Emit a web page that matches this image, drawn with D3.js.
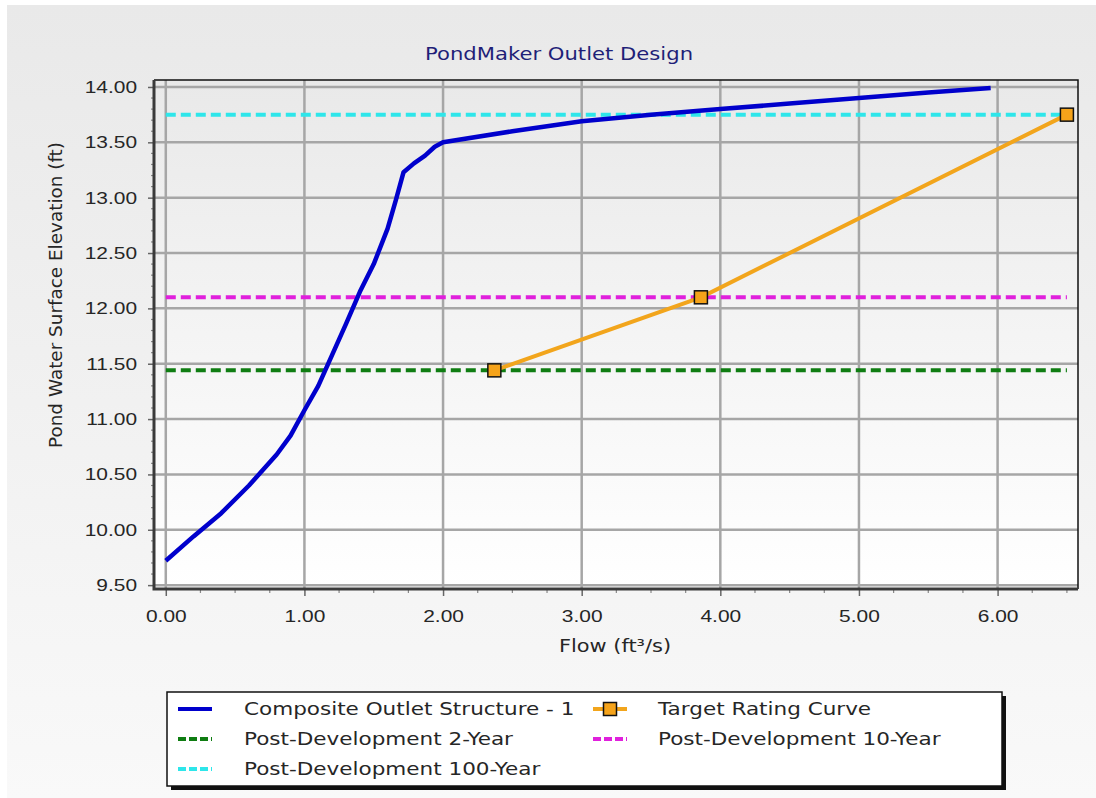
<!DOCTYPE html>
<html>
<head>
<meta charset="utf-8">
<script src="https://cdn.jsdelivr.net/npm/d3@7"></script>
<style>
  html, body { margin: 0; padding: 0; background: #fff; }
  svg { display: block; font-family: 'DejaVu Sans', Verdana, sans-serif; }
</style>
</head>
<body>
<svg id="chart" width="1096" height="798"></svg>
<script>
'use strict';

// composite outlet rating curve (flow ft3/s, elevation ft)
const compositeFlow = [0.00, 0.20, 0.40, 0.60, 0.80, 0.90, 1.00, 1.10, 1.20, 1.30, 1.40, 1.50, 1.60, 1.66, 1.715, 1.79, 1.87, 1.94, 2.00, 2.50, 3.00, 3.50, 4.00, 4.50, 5.00, 5.50, 5.95];
const compositeElev = [9.72, 9.94, 10.15, 10.40, 10.68, 10.85, 11.08, 11.30, 11.58, 11.86, 12.15, 12.40, 12.72, 12.98, 13.23, 13.31, 13.38, 13.46, 13.50, 13.60, 13.69, 13.75, 13.80, 13.85, 13.90, 13.95, 13.99];

// target rating curve
const targetFlow = [2.37, 3.86, 6.50];
const targetElev = [11.44, 12.10, 13.75];

// post-development peak elevations
const stormNames = ['Post-Development 2-Year', 'Post-Development 10-Year', 'Post-Development 100-Year'];
const stormElev = [11.44, 12.10, 13.75];
const stormColors = ['#0f7d12', '#e020dc', '#2ee6ea'];

const xTicks = [0, 1, 2, 3, 4, 5, 6];
const yTicks = [9.5, 10, 10.5, 11, 11.5, 12, 12.5, 13, 13.5, 14];

const SX = 1.23; // screenshot is stretched sideways, so are the glyphs
const ink = '#262626';

const svg = d3.select('#chart');

// BACKGROUND
const defs = svg.append('defs');
const bgGrad = defs.append('linearGradient').attr('id', 'bg').attr('x1', 0).attr('y1', 0).attr('x2', 0).attr('y2', 1);
bgGrad.append('stop').attr('offset', 0).attr('stop-color', '#e9e9e9');
bgGrad.append('stop').attr('offset', 1).attr('stop-color', '#f9f9f9');
const plotGrad = defs.append('linearGradient').attr('id', 'plotbg').attr('x1', 0).attr('y1', 0).attr('x2', 0).attr('y2', 1);
plotGrad.append('stop').attr('offset', 0).attr('stop-color', '#e9e9e9');
plotGrad.append('stop').attr('offset', 1).attr('stop-color', '#ffffff');

svg.append('rect').attr('x', 0).attr('y', 0).attr('width', 1096).attr('height', 798).attr('fill', '#fff');
svg.append('rect').attr('x', 7).attr('y', 5).attr('width', 1089).attr('height', 793).attr('fill', 'url(#bg)');

function label(parent, x, y, str, size, anchor, color, sx) {
  return parent.append('text')
    .attr('transform', `translate(${x},${y}) scale(${sx || SX},1)`)
    .attr('text-anchor', anchor || 'start')
    .attr('font-size', size)
    .attr('fill', color || ink)
    .text(str);
}

// PLOT AREA
const pLeft = 154, pRight = 1078, pTop = 80, pBottom = 589;
const x = d3.scaleLinear().domain([-0.085, 6.58]).range([pLeft, pRight]);
const y = d3.scaleLinear().domain([9.465, 14.063]).range([pBottom, pTop]);

svg.append('rect')
  .attr('x', pLeft).attr('y', pTop)
  .attr('width', pRight - pLeft).attr('height', pBottom - pTop)
  .attr('fill', 'url(#plotbg)');

// grid
const grid = svg.append('g').attr('stroke', '#a6a6a6').attr('stroke-width', 2.5);
grid.selectAll('.gx').data(xTicks).enter().append('line')
  .attr('x1', d => x(d)).attr('x2', d => x(d)).attr('y1', pTop).attr('y2', pBottom);
grid.selectAll('.gy').data(yTicks).enter().append('line')
  .attr('y1', d => y(d)).attr('y2', d => y(d)).attr('x1', pLeft).attr('x2', pRight);

// frame: top and right thin black
svg.append('path')
  .attr('d', `M${pLeft},${pTop} H${pRight} V${pBottom}`)
  .attr('fill', 'none').attr('stroke', '#111').attr('stroke-width', 1.5);

// AXES
const minorX = d3.range(0, 6.51, 0.25).filter(v => Math.abs(v - Math.round(v)) > 1e-6);
const minorY = d3.range(9.5, 14.01, 0.1).filter(v => Math.abs(v * 2 - Math.round(v * 2)) > 1e-6);

const xAxis = svg.append('g').attr('transform', `translate(0,${pBottom})`)
  .call(d3.axisBottom(x).tickValues(xTicks).tickFormat(d3.format('.2f')).tickSize(7).tickSizeOuter(0).tickPadding(13));
xAxis.select('.domain').remove();
xAxis.selectAll('line').attr('stroke', '#666').attr('stroke-width', 1.5);
xAxis.selectAll('text')
  .attr('font-size', 17).attr('fill', ink).attr('font-family', null)
  .attr('transform', `scale(${SX},1)`)
  .attr('y', 21).attr('dy', '0.71em');
xAxis.selectAll('.minor').data(minorX).enter().append('line')
  .attr('x1', d => x(d)).attr('x2', d => x(d)).attr('y1', 0).attr('y2', 4)
  .attr('stroke', '#888').attr('stroke-width', 1.2);

const yAxis = svg.append('g').attr('transform', `translate(${pLeft},0)`)
  .call(d3.axisLeft(y).tickValues(yTicks).tickFormat(d3.format('.2f')).tickSize(6).tickSizeOuter(0).tickPadding(11));
yAxis.select('.domain').remove();
yAxis.selectAll('line').attr('stroke', '#666').attr('stroke-width', 1.5);
yAxis.selectAll('text')
  .attr('font-size', 17).attr('fill', ink).attr('font-family', null)
  .attr('transform', `scale(${SX},1)`)
  .attr('x', -17 / SX);
yAxis.selectAll('.minor').data(minorY).enter().append('line')
  .attr('y1', d => y(d)).attr('y2', d => y(d)).attr('x1', -3).attr('x2', 0)
  .attr('stroke', '#888').attr('stroke-width', 1.2);

// dark left and bottom axis lines
svg.append('path')
  .attr('d', `M${pLeft},${pTop} V${pBottom} H${pRight}`)
  .attr('fill', 'none').attr('stroke', '#3a3a3a').attr('stroke-width', 3);

// LINES
const line = d3.line().x(d => x(d[0])).y(d => y(d[1]));
const lines = svg.append('g');

stormElev.forEach((e, i) => {
  lines.append('path')
    .attr('d', line([[0, e], [targetFlow[targetFlow.length - 1], e]]))
    .attr('fill', 'none')
    .attr('stroke', stormColors[i])
    .attr('stroke-width', 4)
    .attr('stroke-dasharray', '10,5');
});

lines.append('path')
  .attr('d', line(compositeFlow.map((f, i) => [f, compositeElev[i]])))
  .attr('fill', 'none')
  .attr('stroke', '#0000cc')
  .attr('stroke-width', 4.5)
  .attr('stroke-linejoin', 'round');

lines.append('path')
  .attr('d', line(targetFlow.map((f, i) => [f, targetElev[i]])))
  .attr('fill', 'none')
  .attr('stroke', '#f2a51c')
  .attr('stroke-width', 4);

const marker = 13;
lines.selectAll('.target-marker')
  .data(targetFlow.map((f, i) => [f, targetElev[i]]))
  .enter().append('rect')
  .attr('x', d => x(d[0]) - marker / 2)
  .attr('y', d => y(d[1]) - marker / 2)
  .attr('width', marker).attr('height', marker)
  .attr('fill', '#f5a31a')
  .attr('stroke', '#111').attr('stroke-width', 1.5);

// TITLES
label(svg, 559, 60, 'PondMaker Outlet Design', 17.2, 'middle', '#1f1f78');
label(svg, 615, 652, 'Flow (ft³/s)', 17, 'middle');
svg.append('text')
  .attr('transform', 'translate(62,295) rotate(-90)')
  .attr('text-anchor', 'middle')
  .attr('font-size', 18.4)
  .attr('fill', ink)
  .text('Pond Water Surface Elevation (ft)');

// LEGEND
const lg = svg.append('g');
const lgX = 167, lgY = 692, lgW = 835, lgH = 94;
lg.append('rect').attr('x', lgX + 4).attr('y', lgY + 4).attr('width', lgW).attr('height', lgH).attr('fill', '#111');
lg.append('rect').attr('x', lgX).attr('y', lgY).attr('width', lgW).attr('height', lgH)
  .attr('fill', '#fff').attr('stroke', '#111').attr('stroke-width', 1.5);

const legendItems = [
  { name: 'Composite Outlet Structure - 1', color: '#0000cc', col: 0, row: 0, kind: 'solid' },
  { name: 'Target Rating Curve', color: '#f2a51c', col: 1, row: 0, kind: 'marker' },
  { name: stormNames[0], color: stormColors[0], col: 0, row: 1, kind: 'dash' },
  { name: stormNames[1], color: stormColors[1], col: 1, row: 1, kind: 'dash' },
  { name: stormNames[2], color: stormColors[2], col: 0, row: 2, kind: 'dash' }
];
const colSym = [178, 593], colText = [244, 658];
legendItems.forEach(d => {
  const cy = 709 + d.row * 30;
  const sx = colSym[d.col];
  const sym = lg.append('line')
    .attr('x1', sx).attr('x2', sx + 34).attr('y1', cy).attr('y2', cy)
    .attr('stroke', d.color).attr('stroke-width', 4);
  if (d.kind === 'dash') sym.attr('stroke-dasharray', '8,3');
  if (d.kind === 'marker') {
    lg.append('rect')
      .attr('x', sx + 17 - 6.5).attr('y', cy - 6.5).attr('width', 13).attr('height', 13)
      .attr('fill', '#f5a31a').attr('stroke', '#111').attr('stroke-width', 1.5);
  }
  label(lg, colText[d.col], cy + 6, d.name, 17.5, 'start', ink);
});
</script>
</body>
</html>
